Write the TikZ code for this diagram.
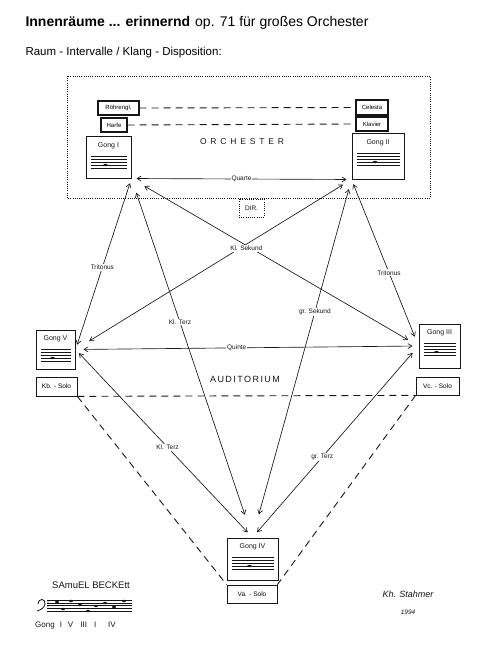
\documentclass[tikz,border=0pt]{standalone}
\usepackage{fontspec}
\setmainfont{Liberation Sans}
\usetikzlibrary{arrows.meta}
\definecolor{penink}{RGB}{22, 22, 22}
\newcommand{\handfont}{\fontsize{6.5}{7}\selectfont}
\newcommand{\gongfeld}[2]{%
  \node[hand, font=\fontsize{7}{8}\selectfont] at ([yshift=-9pt]#1.north) {#2};
  \foreach \k [evaluate=\k as \dy using -20-3*\k] in {0,...,4}
    \draw[penink, line width=0.75pt] ([xshift=5pt, yshift=\dy pt]#1.north west) -- ([xshift=-5pt, yshift=\dy pt]#1.north east);
  \fill[penink] ([xshift=-3pt, yshift=-28.5pt]#1.north) ellipse (2.2pt and 1.2pt);
}

\begin{document}
\begin{tikzpicture}[x=1pt, y=-1pt,
  gong/.style={draw=penink, line width=1pt, inner sep=0pt},
  solo/.style={draw=penink, line width=0.7pt, inner sep=0pt, font=\handfont},
  instr/.style={draw=penink, line width=1.1pt, inner sep=0pt, font=\fontsize{6}{7}\selectfont},
  hand/.style={font=\handfont, inner sep=1pt, text=penink},
  lab/.style={hand, fill=white},
  pfeil/.style={penink, line width=0.65pt, {Straight Barb[length=4pt,width=5pt]}-{Straight Barb[length=4pt,width=5pt]}},
  strich/.style={penink, line width=0.9pt, dash pattern=on 7pt off 5pt},
  punkte/.style={penink, line width=0.7pt, dash pattern=on 0.8pt off 1.4pt}]
  \useasboundingbox (0,0) rectangle (494,655);

  \node[anchor=base west, font=\fontsize{14}{16}\selectfont] (titel) at (22,27)
    {\textbf{Innenräume ... erinnernd}\hspace{5pt}op. 71 für großes Orchester};
  \node[anchor=base west, font=\fontsize{11.5}{13}\selectfont] (untertitel) at (22,56)
    {Raum - Intervalle / Klang - Disposition:};

  % Orchester
  \draw[punkte] (67,76) rectangle (430,198);
  \node[hand, draw, punkte, minimum width=25pt, minimum height=18pt] (dir) at (251.5,208) {DIR.};
  \node[font=\fontsize{8.5}{10}\selectfont\addfontfeatures{LetterSpace=45}, text=penink] (orch) at (242,142) {ORCHESTER};
  \node[instr, minimum width=41pt, minimum height=14pt] (rg) at (118.5,108) {Röhrengl.};
  \node[instr, minimum width=26pt, minimum height=14pt] (hf) at (114,125) {Harfe};
  \node[instr, minimum width=32pt, minimum height=15pt] (ce) at (372,107.5) {Celesta};
  \node[instr, minimum width=32pt, minimum height=14pt] (kl) at (372,124) {Klavier};
  \draw[strich] (rg.east) -- (ce.west);
  \draw[strich] (hf.east) -- (kl.west);

  % Gongs
  \node[gong, minimum width=45pt, minimum height=41pt] (g1) at (108.5,157.5) {};
  \node[gong, minimum width=52pt, minimum height=45pt] (g2) at (378,156.5) {};
  \node[gong, minimum width=41pt, minimum height=44pt] (g3) at (439.5,346) {};
  \node[gong, minimum width=51pt, minimum height=42pt] (g4) at (252.5,559) {};
  \node[gong, minimum width=39pt, minimum height=39pt] (g5) at (55.5,349.5) {};
  \gongfeld{g1}{Gong I}
  \gongfeld{g2}{Gong II}
  \gongfeld{g3}{Gong III}
  \gongfeld{g4}{Gong IV}
  \gongfeld{g5}{Gong V}

  \node[solo, minimum width=41pt, minimum height=19pt] (kb) at (56.5,386.5) {Kb. - Solo};
  \node[solo, minimum width=43pt, minimum height=18pt] (vc) at (437.5,386) {Vc. - Solo};
  \node[solo, minimum width=50pt, minimum height=18pt] (va) at (252,594) {Va. - Solo};
  \node[font=\fontsize{9}{10}\selectfont\addfontfeatures{LetterSpace=16}, text=penink] (aud) at (245,379) {AUDITORIUM};

  \draw[strich] (kb.south east) -- (vc.south west);
  \draw[strich] (kb.south east) -- (va.north west);
  \draw[strich] (vc.south west) -- (va.north east);

  % Intervalle
  \draw[pfeil, shorten <=5pt, shorten >=5pt] (g1.south east) -- node[lab] {Quarte} (g2.south west);
  \draw[pfeil, shorten <=5pt, shorten >=5pt] (g1.south east) -- node[lab, pos=0.52] {Tritonus} (g5.east);
  \draw[pfeil, shorten <=5pt, shorten >=10pt] (g2.south west) -- node[lab, pos=0.56] {Tritonus} (g3.west);
  \draw[pfeil, shorten <=8pt, shorten >=6pt] (g5.east) -- node[lab, pos=0.47] {Quinte} (g3.west);
  \draw[pfeil, shorten <=10pt, shorten >=16pt] (g2.south west) -- (g5.east);
  \draw[pfeil, shorten <=15pt, shorten >=12pt] (g1.south east) -- node[lab, pos=0.4, yshift=-3pt] {Kl. Sekund} (g3.west);
  \draw[pfeil, shorten <=15pt, shorten >=24pt] (g1.south east) -- node[lab, pos=0.4] {Kl. Terz} (g4.north);
  \draw[pfeil, shorten <=10pt, shorten >=24pt] (g2.south west) -- node[lab, pos=0.37] {gr. Sekund} (g4.north);
  \draw[pfeil, shorten <=5pt, shorten >=7pt] (g5.east) -- node[lab, pos=0.52] {Kl. Terz} (g4.north);
  \draw[pfeil, shorten <=9pt, shorten >=7pt] (g3.west) -- node[lab, pos=0.58] {gr. Terz} (g4.north);

  % Beckett
  \node[hand, font=\fontsize{9.5}{11}\selectfont] (beckett) at (91,585) {SAmuEL BECKEtt};
  \foreach \k in {0,...,4}
    \draw[penink, line width=0.5pt] (47,600+2.75*\k) -- (132,600+2.75*\k);
  \draw[penink, line width=0.8pt] (38,604) .. controls (38,598) and (46,598) .. (45,604) .. controls (44,608) and (41,610) .. (37,611);
  \fill[penink] (48,602) circle (0.7pt) (48,606) circle (0.7pt);
  \foreach \nx/\ny in {57/602, 63/609, 71/601, 80/605, 88/611, 96/606, 105/603, 114/607, 124/601}
    \fill[penink] (\nx,\ny) ellipse (2pt and 1.2pt);
  \node[hand, font=\fontsize{8}{9}\selectfont, anchor=west] (folge) at (34,626) {Gong\hspace{5pt}I\hspace{6pt}V\hspace{7pt}III\hspace{7pt}I\hspace{12pt}IV};

  \node[hand, font=\fontsize{9}{10}\selectfont\itshape] (zeichen) at (408,594) {Kh. Stahmer};
  \node[hand, font=\fontsize{6.5}{7}\selectfont\itshape] (jahr) at (408,612) {1994};
\end{tikzpicture}
\end{document}
